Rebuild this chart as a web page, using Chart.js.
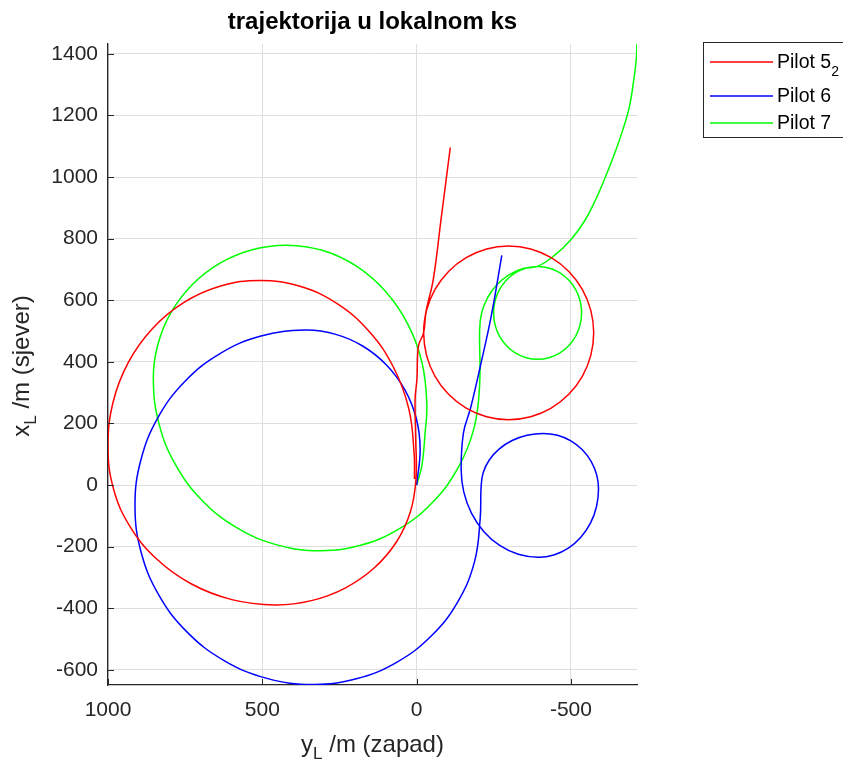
<!DOCTYPE html>
<html>
<head>
<meta charset="utf-8">
<script src="https://cdn.jsdelivr.net/npm/chart.js@4/dist/chart.umd.min.js"></script>
<style>
  html, body { margin: 0; padding: 0; background: #ffffff; }
  canvas { display: block; }
</style>
</head>
<body>
<canvas id="c" width="843" height="762"></canvas>
<script>
// ---------- DATA ----------
const titleText = 'trajektorija u lokalnom ks';
const seriesNames = ['Pilot 5', 'Pilot 6', 'Pilot 7'];
const seriesSub = ['2', '', ''];
const seriesColors = ['#ff0000', '#0000ff', '#00ff00'];

// horizontal axis: y_L (west, reversed), vertical axis: x_L (north)
const xTicks = [1000, 500, 0, -500];
const yTicks = [-600, -400, -200, 0, 200, 400, 600, 800, 1000, 1200, 1400];
const xRange = [-714, 1000];
const yRange = [-649, 1432];

// Pilot 5_2 : yL (horizontal) and xL (vertical) values along the track
const pilot52Y = [-109, -79, -54, -30,
  -22.7, -32.1, -59.6, -103.4, -160.4, -226.8, -298.2, -369.6, -436, -493, -536.8, -564.3, -573.7,
  -564.3, -536.8, -493, -436, -369.6, -298.2, -226.8, -160.4, -103.4, -59.6, -32.1, -22.7,
  -6, -1, 5, 3, 2,
  20.2, 65.6, 137.8, 231.7, 341.1, 458.6, 598.8, 729.3, 841.4, 927.5, 981.6, 1000,
  983.2, 934, 855.6, 753.7, 634.9, 507.3, 378, 257.7, 154.4, 75, 25.1, 8.1, 7];
const pilot52X = [1096, 862, 668, 561,
  494.3, 421.3, 353.3, 294.9, 250.1, 221.9, 212.3, 221.9, 250.1, 294.9, 353.3, 421.3, 494.3,
  567.3, 635.3, 693.7, 738.5, 766.7, 776.3, 766.7, 738.5, 693.7, 635.3, 567.3, 494.3,
  452, 344, 279, 149, 20,
  -86.4, -184.8, -269.3, -334.3, -375.1, -389, -371.8, -321.2, -240.8, -136.2, -14.2, 125,
  270.6, 398.7, 508.7, 593.3, 646.4, 664.5, 645.3, 588.9, 499.2, 382.5, 246.5, 100.5, 20];

// Pilot 6
const pilot6Y = [0, -11.4, 1.3, 38.5, 97.8, 175, 264.8, 361.4, 504.1, 637, 751.1, 838.7, 893.7, 912.5,
  892.9, 835.2, 743.5, 624, 484.9, 335.5, 195.3, 64.8, -47.2, -133.3, -187.4, -205.8,
  -209, -215.8, -235.9, -267.9, -309.5, -357.9, -410, -456.4, -499.7, -536.8, -565.3, -583.2, -589.3,
  -582.7, -563.1, -532, -491.6, -444.4, -393.8, -329.2, -269, -217.3, -177.6, -152.7, -144.2,
  -152, -175, -208, -241, -276];
const pilot6X = [0, 116.7, 216.9, 310.1, 390.1, 451.6, 490.2, 503.4, 484, 427, 336.3, 218.2, 80.6, -67.1,
  -217.4, -357.2, -477.3, -569.6, -627.5, -647.3, -629, -575.3, -490, -378.8, -249.2, -110.2,
  -3.2, 41, 82.2, 117.6, 144.7, 161.8, 167.6, 161.5, 143.4, 114.7, 77.3, 33.8, -13,
  -70.3, -123.7, -169.5, -204.7, -226.9, -234.4, -224.6, -196, -150.4, -91.2, -22.2, 51.9,
  171, 251, 393, 545, 746];

// Pilot 7
const pilot7Y = [0, -17, -27.6, -33.1, -17.7, 27.7, 99.8, 193.8, 303.2, 420.7, 532.7, 636.9, 726.4, 795.2, 838.4, 853.1,
  834.8, 780.8, 694.9, 583, 452.7, 312.8, 178.9, 54.3, -52.8, -134.9, -186.6, -204.2,
  -204.2, -210.6, -229.6, -259.8, -299, -344.7, -393.8,
  -428.8, -463.2, -492.7, -515.4, -529.7, -534.5, -529.7, -515.4, -492.7, -463.2, -428.8, -391.9,
  -355, -320.6, -291.1, -268.4, -254.1, -249.3, -254.1, -268.4, -291.1, -320.6, -355, -391.9,
  -442.5, -497.6, -543, -578.6, -611, -640.2, -666.1, -688.8, -701.8, -711.5, -714];
const pilot7X = [0, 63, 171, 262.6, 396.3, 520.8, 627.7, 709.8, 761.4, 779, 764.1, 720.6, 651.4, 561.3, 456.3, 343.6,
  199.4, 65.3, -50, -138.4, -194, -213, -194.6, -140.6, -54.7, 57.2, 187.5, 327.4,
  505.7, 558.6, 607.8, 650.1, 682.5, 703, 709.9,
  704.8, 689.7, 665.7, 634.6, 598.2, 559.2, 520.2, 483.9, 452.7, 428.7, 413.6, 408.5,
  413.6, 428.7, 452.7, 483.9, 520.2, 559.2, 598.2, 634.6, 665.7, 689.7, 704.8, 709.9,
  742.3, 794.2, 855.8, 923.8, 998.4, 1073, 1147.5, 1225.3, 1303.1, 1380.9, 1435];

// ---------- BUILD ----------
function pts(h, v) { return h.map((val, i) => ({ x: val, y: v[i] })); }
const FONT = '"Liberation Sans", Arial, Helvetica, sans-serif';
const AX = '#262626';

function drawSubText(ctx, pieces, x, y, align) {
  let total = 0;
  pieces.forEach(p => { ctx.font = p.size + 'px ' + FONT; p.w = ctx.measureText(p.t).width; total += p.w; });
  let cx = align === 'center' ? x - total / 2 : x;
  ctx.textAlign = 'left';
  pieces.forEach(p => { ctx.font = p.size + 'px ' + FONT; ctx.fillText(p.t, cx, y + (p.dy || 0)); cx += p.w; });
}

const decor = {
  id: 'decor',
  afterDraw(chart) {
    const ctx = chart.ctx, ca = chart.chartArea;
    const xs = chart.scales.x, ys = chart.scales.y;
    ctx.save();
    // inward tick marks
    ctx.strokeStyle = AX; ctx.lineWidth = 1;
    yTicks.forEach(v => {
      const y = Math.round(ys.getPixelForValue(v)) + 0.5;
      ctx.beginPath(); ctx.moveTo(ca.left, y); ctx.lineTo(ca.left + 6, y); ctx.stroke();
    });
    xTicks.forEach(v => {
      const x = Math.round(xs.getPixelForValue(v)) + 0.5;
      ctx.beginPath(); ctx.moveTo(x, ca.bottom); ctx.lineTo(x, ca.bottom - 6); ctx.stroke();
    });
    // title
    ctx.fillStyle = '#000000';
    ctx.font = 'bold 24px ' + FONT;
    ctx.textAlign = 'center'; ctx.textBaseline = 'alphabetic';
    ctx.fillText(titleText, (ca.left + ca.right) / 2, 29);
    // x axis label
    ctx.fillStyle = AX;
    drawSubText(ctx, [{ t: 'y', size: 24 }, { t: 'L', size: 17, dy: 7 }, { t: ' /m (zapad)', size: 24 }],
      (ca.left + ca.right) / 2, 752, 'center');
    // y axis label (rotated)
    ctx.save();
    ctx.translate(29, 366);
    ctx.rotate(-Math.PI / 2);
    drawSubText(ctx, [{ t: 'x', size: 24 }, { t: 'L', size: 17, dy: 7 }, { t: ' /m (sjever)', size: 24 }], 0, 0, 'center');
    ctx.restore();
    // legend
    const lx = 703.5, ly = 42.5, lw = 160, lh = 95;
    ctx.fillStyle = '#ffffff';
    ctx.fillRect(lx, ly, lw, lh);
    ctx.strokeStyle = AX; ctx.lineWidth = 1;
    ctx.strokeRect(lx, ly, lw, lh);
    const rows = [62, 96, 123];
    chart.data.datasets.forEach((ds, i) => {
      ctx.strokeStyle = ds.borderColor; ctx.lineWidth = 1.5;
      ctx.beginPath(); ctx.moveTo(710, rows[i]); ctx.lineTo(773, rows[i]); ctx.stroke();
      ctx.fillStyle = '#000000';
      ctx.textBaseline = 'middle';
      const pieces = [{ t: seriesNames[i], size: 19.5 }];
      if (seriesSub[i]) pieces.push({ t: seriesSub[i], size: 14, dy: 9 });
      drawSubText(ctx, pieces, 777, rows[i] + 1, 'left');
    });
    ctx.restore();
  }
};

const datasets = [
  [pilot52Y, pilot52X], [pilot6Y, pilot6X], [pilot7Y, pilot7X]
].map((s, i) => ({
  label: seriesNames[i] + (seriesSub[i] ? '\u2082' : ''),
  data: pts(s[0], s[1]),
  showLine: true,
  borderColor: seriesColors[i],
  backgroundColor: seriesColors[i],
  borderWidth: 1.5,
  pointRadius: 0,
  pointHoverRadius: 0,
  tension: 0.4,
  fill: false
}));

new Chart(document.getElementById('c'), {
  type: 'scatter',
  data: { datasets },
  options: {
    responsive: false,
    animation: false,
    layout: { padding: { left: 0, right: 206, top: 44, bottom: 0 } },
    plugins: { legend: { display: false }, title: { display: false }, tooltip: { enabled: false } },
    scales: {
      x: {
        type: 'linear', reverse: true, min: xRange[0], max: xRange[1],
        afterBuildTicks: s => { s.ticks = xTicks.map(v => ({ value: v })); },
        afterFit: s => { s.height = 77; },
        grid: { color: '#dedede', lineWidth: 1, drawTicks: false },
        border: { color: AX, width: 1.3 },
        ticks: { color: AX, padding: 13, font: { family: FONT, size: 21 }, callback: v => String(v), maxRotation: 0, autoSkip: false }
      },
      y: {
        type: 'linear', min: yRange[0], max: yRange[1],
        afterBuildTicks: s => { s.ticks = yTicks.map(v => ({ value: v })); },
        afterFit: s => { s.width = 108; },
        grid: { color: '#dedede', lineWidth: 1, drawTicks: false },
        border: { color: AX, width: 1.3 },
        ticks: { color: AX, padding: 10, font: { family: FONT, size: 21 }, callback: v => String(v), autoSkip: false }
      }
    }
  },
  plugins: [decor]
});
</script>
</body>
</html>
